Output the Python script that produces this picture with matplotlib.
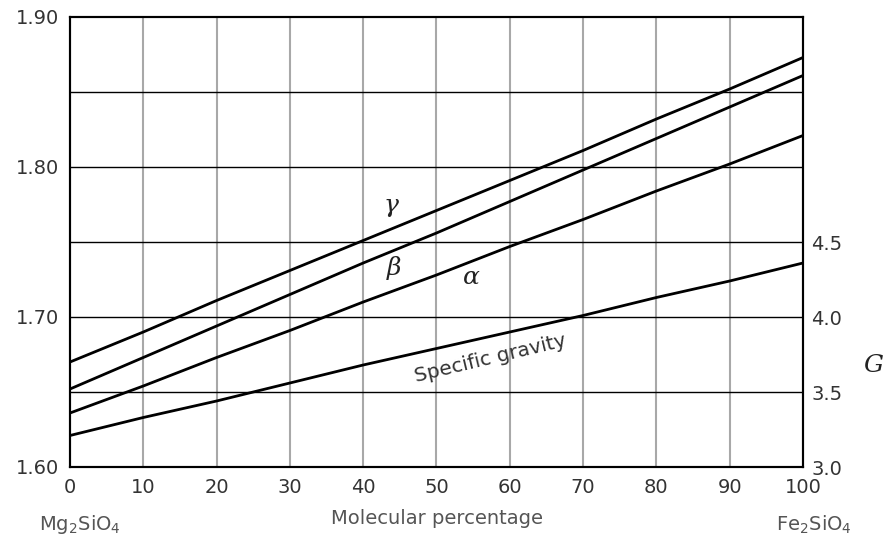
import matplotlib
matplotlib.use("Agg")
import matplotlib.pyplot as plt
import numpy as np

# Data
pct = [0, 10, 20, 30, 40, 50, 60, 70, 80, 90, 100]
gamma = [1.670, 1.690, 1.711, 1.731, 1.751, 1.771, 1.791, 1.811, 1.832, 1.852, 1.873]
beta = [1.652, 1.673, 1.694, 1.715, 1.736, 1.756, 1.777, 1.798, 1.819, 1.840, 1.861]
alpha = [1.636, 1.654, 1.673, 1.691, 1.710, 1.728, 1.747, 1.765, 1.784, 1.802, 1.821]
sg = [3.21, 3.33, 3.44, 3.56, 3.68, 3.79, 3.90, 4.01, 4.13, 4.24, 4.36]
left_ticks = [1.60, 1.70, 1.80, 1.90]
left_labels = ["1.60", "1.70", "1.80", "1.90"]
right_ticks = [3.0, 3.5, 4.0, 4.5]
right_labels = ["3.0", "3.5", "4.0", "4.5"]
hlines = [1.65, 1.70, 1.75, 1.80, 1.85]
xticks = list(range(0, 101, 10))

plt.rcParams['font.family'] = ['DejaVu Sans']
plt.rcParams['mathtext.fontset'] = 'dejavuserif'
fig = plt.figure(figsize=(8.87, 5.42), dpi=100)
ax = fig.add_axes([70/887, 1-467/542, (803-70)/887, (467-17)/542])
ax.set_xlim(0, 100)
ax.set_ylim(1.60, 1.90)

for x in xticks[1:-1]:
    ax.axvline(x, color='#a8a8a8', lw=1.5, zorder=1)
for y in hlines:
    ax.axhline(y, color='black', lw=1.0, zorder=1)

for s in [gamma, beta, alpha]:
    ax.plot(pct, s, color='black', lw=2.0, zorder=3)

ax2 = ax.twinx()
ax2.set_ylim(3.0, 6.0)
ax2.plot(pct, sg, color='black', lw=2.0, zorder=3)

for a in (ax, ax2):
    for sp in a.spines.values():
        sp.set_color('black')
        sp.set_linewidth(1.5)

ax.set_xticks(xticks)
ax.set_xticklabels([str(x) for x in xticks])
ax.set_yticks(left_ticks)
ax.set_yticklabels(left_labels)
ax.tick_params(axis='both', length=0, labelsize=14, labelcolor='#333333', pad=8)
ax2.set_yticks(right_ticks)
ax2.set_yticklabels(right_labels)
ax2.tick_params(axis='y', length=0, labelsize=14, labelcolor='#333333', pad=6)

ax.text(43.8, 1.7733, r'$\gamma$', fontsize=18, ha='center', va='center', color='#222222')
ax.text(44.2, 1.7327, r'$\beta$', fontsize=18, ha='center', va='center', color='#222222')
ax.text(54.7, 1.7267, r'$\alpha$', fontsize=18, ha='center', va='center', color='#222222')
ax.text(57.4, 1.6725, 'Specific gravity', fontsize=14.5, ha='center', va='center',
        rotation=13.5, color='#333333', rotation_mode='anchor')

fig.text(80/887, 1-525/542, r'Mg$\mathregular{_2}$SiO$\mathregular{_4}$', fontsize=14, ha='center', va='center', color='#555555')
fig.text(814/887, 1-525/542, r'Fe$\mathregular{_2}$SiO$\mathregular{_4}$', fontsize=14, ha='center', va='center', color='#555555')
fig.text(437/887, 1-518/542, 'Molecular percentage', fontsize=14, ha='center', va='center', color='#555555')
fig.text(873/887, 1-365/542, 'G', fontsize=18, ha='center', va='center', family='DejaVu Serif',
         style='italic', color='#222222')

fig.savefig('out.png', dpi=100, facecolor='white')
